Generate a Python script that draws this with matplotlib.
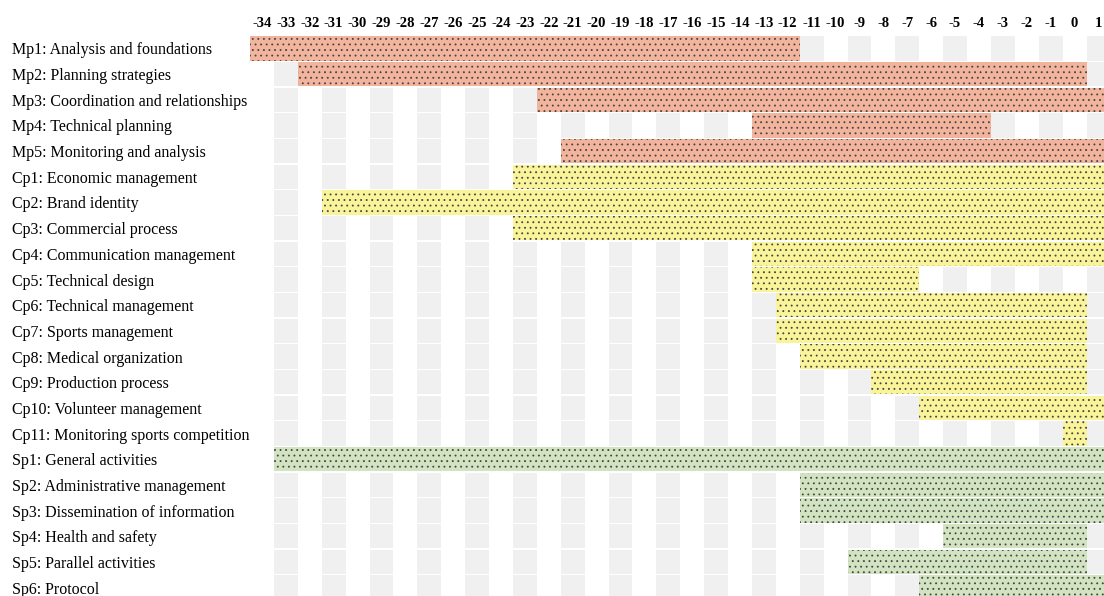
import matplotlib
matplotlib.use("Agg")
import matplotlib.pyplot as plt

plt.rcParams['font.family'] = ['Liberation Serif', 'DejaVu Serif']
plt.rcParams['hatch.linewidth'] = 0.6

# task names (top to bottom)
tasks = [
    "Mp1: Analysis and foundations",
    "Mp2: Planning strategies",
    "Mp3: Coordination and relationships",
    "Mp4: Technical planning",
    "Mp5: Monitoring and analysis",
    "Cp1: Economic management",
    "Cp2: Brand identity",
    "Cp3: Commercial process",
    "Cp4: Communication management",
    "Cp5: Technical design",
    "Cp6: Technical management",
    "Cp7: Sports management",
    "Cp8: Medical organization",
    "Cp9: Production process",
    "Cp10: Volunteer management",
    "Cp11: Monitoring sports competition",
    "Sp1: General activities",
    "Sp2: Administrative management",
    "Sp3: Dissemination of information",
    "Sp4: Health and safety",
    "Sp5: Parallel activities",
    "Sp6: Protocol",
]
# first and last period of each task
starts = [-34, -32, -22, -13, -21, -23, -31, -23, -13, -13, -12, -12, -11, -8, -6, 0,
          -33, -11, -11, -5, -9, -6]
ends = [-12, 0, 1, -4, 1, 1, 1, 1, 1, -7, 0, 0, 0, 0, 1, 0,
        1, 1, 1, 0, 0, 1]
groups = ["M"] * 5 + ["C"] * 11 + ["S"] * 6
periods = list(range(-34, 2))

group_colors = {"M": "#f2b49d", "C": "#f9f49a", "S": "#d2e3c2"}

fig = plt.figure(figsize=(11.04, 5.96), dpi=100)
ax = fig.add_axes([250 / 1104, 0, 1 - 250 / 1104, 1])

rows = list(range(len(tasks)))

# alternating grey columns
for p in periods:
    if p % 2 != 0:
        ax.barh(rows, 1, left=p - 0.5, height=0.95, color="#f0f0f0", linewidth=0)

# task bars
for i, (s, e, g) in enumerate(zip(starts, ends, groups)):
    ax.barh(i, e - s + 1, left=s - 0.5, height=0.95, color=group_colors[g],
            edgecolor="#444444", linewidth=0, hatch="...")

# period header
for p in periods:
    ax.text(p, -0.99, str(p), ha="center", va="center", fontsize=10.5,
            fontweight="bold")

ax.set_xlim(-34.5, -34.5 + 854 / 23.9)
ax.set_ylim(21.33, -1.889)
ax.set_yticks(rows)
ax.set_yticklabels(tasks, fontsize=11.5, ha="left")
ax.tick_params(axis="y", length=0, pad=171)
ax.set_xticks([])
for sp in ax.spines.values():
    sp.set_visible(False)

fig.savefig("out.png", dpi=100)
